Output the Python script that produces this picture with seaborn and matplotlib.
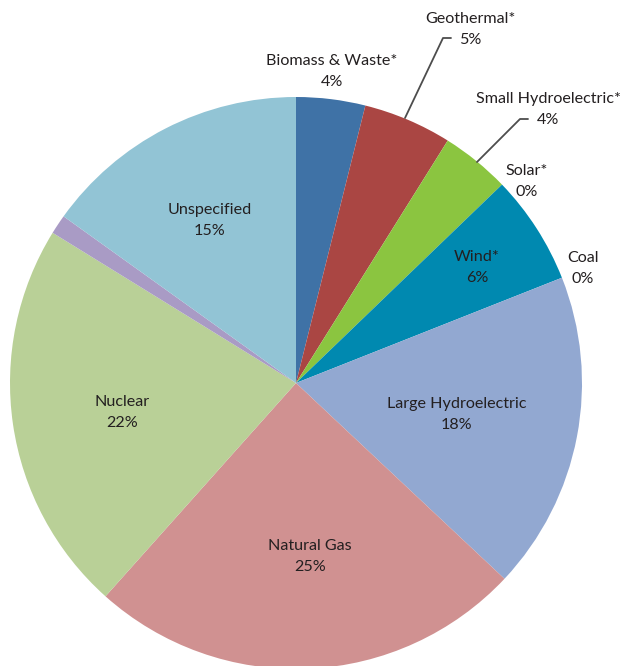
"""Pie chart of electricity sources by share."""

import matplotlib
matplotlib.use("Agg")
import matplotlib.pyplot as plt
import seaborn as sns

sources = ["Biomass & Waste*", "Geothermal*", "Small Hydroelectric*", "Solar*",
           "Wind*", "Coal", "Large Hydroelectric", "Natural Gas", "Nuclear",
           "Other", "Unspecified"]
shares = [3.9, 5.0, 3.9, 0.0, 6.2, 0.0, 18.0, 24.6, 22.2, 1.1, 15.1]
share_labels = ["4%", "5%", "4%", "0%", "6%", "0%", "18%", "25%", "22%", "", "15%"]
colors = ["#3f72a6", "#aa4643", "#8bc540", "#f0f0f0", "#0089b0", "#cccccc",
          "#92a8d1", "#d09191", "#b9d097", "#a99bc5", "#92c4d5"]

W, H = 623, 666
CX, CY, R = 296, 383, 286


def px(x, y):
    """Pixel position -> data coords (pie radius 1 at origin)."""
    return (x - CX) / R, (CY - y) / R


# label placement in pixels: (x, y of first line)
label_pos = {
    "Biomass & Waste*": (332, 61),
    "Geothermal*": (470, 19),
    "Small Hydroelectric*": (548, 99),
    "Solar*": (527, 171),
    "Wind*": (477, 257),
    "Coal": (583, 258),
    "Large Hydroelectric": (457, 404),
    "Natural Gas": (310, 546),
    "Nuclear": (122, 402),
    "Unspecified": (210, 210),
}

sns.set_theme(style="white")
plt.rcParams["font.family"] = ["Lato", "DejaVu Sans"]

fig = plt.figure(figsize=(W / 100, H / 100), dpi=100)
ax = fig.add_axes([0, 0, 1, 1])
ax.pie(shares, colors=colors, startangle=90, counterclock=False, radius=1,
       wedgeprops={"linewidth": 0})
ax.set_xlim(-CX / R, (W - CX) / R)
ax.set_ylim(-(H - CY) / R, CY / R)
ax.set_aspect("auto")
ax.axis("off")

txt_color = "#231f20"
for name, pct in zip(sources, share_labels):
    if name not in label_pos:
        continue
    x, y = label_pos[name]
    ax.text(*px(x, y), name, ha="center", va="center", fontsize=11.6,
            color=txt_color)
    ax.text(*px(x, y + 21), pct, ha="center", va="center", fontsize=11.6,
            color=txt_color)

# leader lines
line_kw = {"color": "#4d4d4d", "linewidth": 1.3}
for pts in ([(405, 118), (443, 38), (451, 38)],
            [(477, 162), (520, 119), (528, 119)]):
    xs, ys = zip(*[px(a, b) for a, b in pts])
    ax.plot(xs, ys, **line_kw)

fig.savefig("out.png", dpi=100)
